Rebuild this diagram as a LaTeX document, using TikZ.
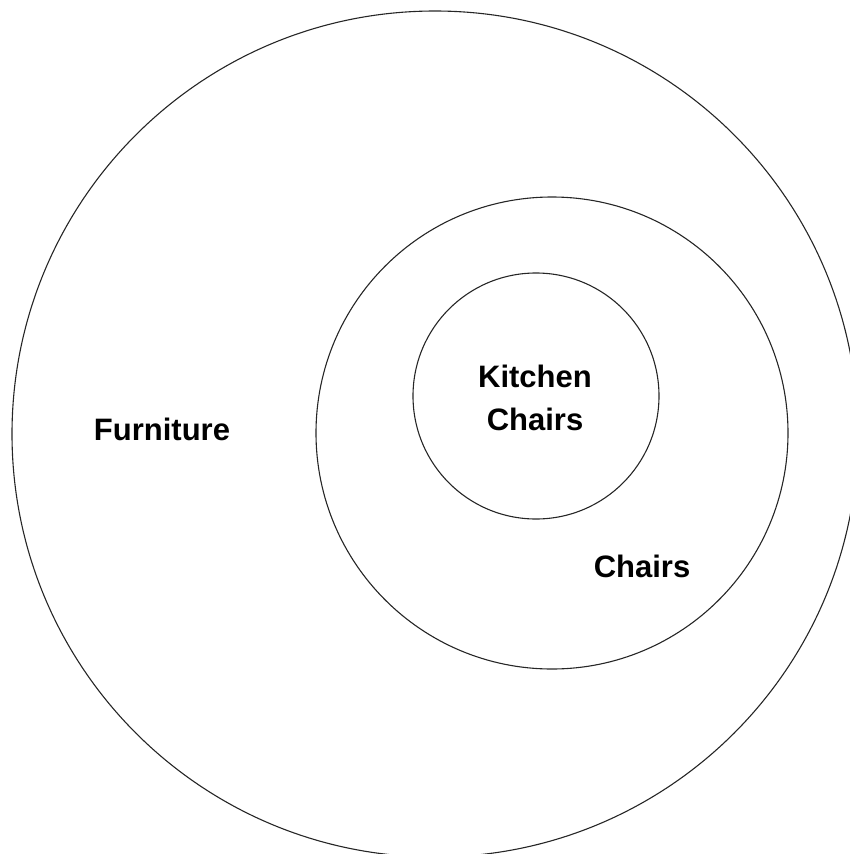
\documentclass[tikz,border=0pt]{standalone}
\usepackage{fontspec}
\setmainfont{Liberation Sans}
\begin{document}
\begin{tikzpicture}[x=1pt,y=-1pt,
  ring/.style={draw=black!85, line width=1.1pt},
  lab/.style={font=\bfseries\fontsize{31}{43}\selectfont, inner sep=0pt, anchor=base, align=center}]
\useasboundingbox (0,0) rectangle (850,854);
\begin{scope}
\clip (0,0) rectangle (850,854);
\node[ring, circle, minimum size=846pt, inner sep=0pt] (outer) at (435,434) {};
\node[ring, circle, minimum size=472pt, inner sep=0pt] (middle) at (552,433) {};
\node[ring, circle, minimum size=246pt, inner sep=0pt] (inner) at (536,396) {};
\end{scope}
\node[lab] (furniture) at (162,440) {Furniture};
\node[lab] (kitchen) at (535,430) {Kitchen\\Chairs};
\node[lab] (chairs) at (642,577) {Chairs};
\end{tikzpicture}
\end{document}
